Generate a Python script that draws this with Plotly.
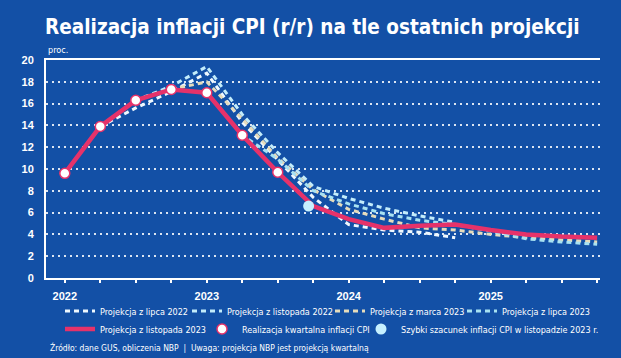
import plotly.graph_objects as go

# ---- data ----
quarters = list(range(16))  # 2022Q1 .. 2025Q4
year_ticks = ["2022", "", "", "", "2023", "", "", "", "2024", "", "", "", "2025", "", "", ""]

proj_lip_2022 = [None, 13.9, 15.6, 17.1, 18.8, 14.3, 10.8, 7.4, 4.9, 4.4, 4.2, 3.7,
                 None, None, None, None]
proj_lis_2022 = [None, None, 16.3, 17.6, 19.4, 15.0, 11.5, 8.4, 7.3, 6.4, 5.7, 5.1,
                 None, None, None, None]
proj_mar_2023 = [None, None, None, 17.3, 18.0, 14.6, 11.0, 8.1, 6.3, 5.4, 4.6, 4.4,
                 4.0, 3.7, 3.5, 3.3]
proj_lip_2023 = [None, None, None, None, 17.0, 13.1, 10.9, 8.0, 6.8, 5.9, 5.3, 4.9,
                 4.3, 3.6, 3.3, 3.1]
proj_lis_2023 = [9.6, 13.9, 16.3, 17.3, 17.0, 13.1, 9.7, 6.6, 5.4, 4.6, 4.8, 4.9,
                 4.4, 4.0, 3.8, 3.7]
real_x = [0, 1, 2, 3, 4, 5, 6]
real_cpi = [9.6, 13.9, 16.3, 17.3, 17.0, 13.1, 9.7]
flash_x = [6.87]
flash_cpi = [6.6]

BG = "#1350a6"
FONT = "Liberation Sans Narrow, DejaVu Sans Condensed, sans-serif"
DASH = "5px,4px"

fig = go.Figure()

# (name, values, colour, legend id, legend x px, legend row y px)
dashed = [
    ("Projekcja z lipca 2022", proj_lip_2022, "#eef8ff", "legend", 60, 311),
    ("Projekcja z listopada 2022", proj_lis_2022, "#c2ecfb", "legend2", 187, 311),
    ("Projekcja z marca 2023", proj_mar_2023, "#e6dcbc", "legend3", 330, 311),
    ("Projekcja z lipca 2023", proj_lip_2023, "#a8e2f2", "legend4", 462, 311),
]
legend_pos = {}
for name, ys, col, lg, lx, ly in dashed:
    fig.add_trace(go.Scatter(x=quarters, y=ys, name=name, mode="lines",
                             line=dict(color=col, width=3, dash=DASH),
                             connectgaps=False, legend=lg))
    legend_pos[lg] = (lx, ly)

fig.add_trace(go.Scatter(x=quarters, y=proj_lis_2023, name="Projekcja z listopada 2023",
                         mode="lines", line=dict(color="#e6326a", width=4.5),
                         legend="legend5"))
legend_pos["legend5"] = (60, 329)
fig.add_trace(go.Scatter(x=real_x, y=real_cpi, name="Realizacja kwartalna inflacji CPI",
                         mode="markers",
                         marker=dict(size=10, color="#ffffff",
                                     line=dict(color="#e6326a", width=1.5)),
                         legend="legend6"))
legend_pos["legend6"] = (202, 329)
fig.add_trace(go.Scatter(x=flash_x, y=flash_cpi,
                         name="Szybki szacunek inflacji CPI w listopadzie 2023 r.",
                         mode="markers",
                         marker=dict(size=11, color="#c6f0ff", line=dict(width=0)),
                         legend="legend7"))
legend_pos["legend7"] = (361, 329)

legends = {}
for lg, (lx, ly) in legend_pos.items():
    legends[lg] = dict(orientation="h", bgcolor="rgba(0,0,0,0)",
                       font=dict(family=FONT, size=9, color="#ffffff"),
                       xref="container", yref="container",
                       xanchor="left", yanchor="middle",
                       x=lx / 621, y=1 - ly / 358,
                       itemclick=False, itemdoubleclick=False)

fig.update_layout(
    width=621, height=358,
    margin=dict(l=46, r=21, t=60, b=80, autoexpand=False),
    paper_bgcolor=BG, plot_bgcolor=BG,
    title=dict(text="Realizacja inflacji CPI (r/r) na tle ostatnich projekcji",
               font=dict(family=FONT, size=20.5, color="#ffffff", weight="bold"),
               x=0.503, xanchor="center", y=1 - 27 / 358, yanchor="middle",
               xref="container", yref="container"),
    showlegend=True,
    **legends,
    xaxis=dict(range=[-0.53, 15.08], tickmode="array", tickvals=quarters,
               ticktext=year_ticks, showgrid=False, zeroline=False,
               showline=True, linecolor="#ffffff", linewidth=2, mirror=True,
               ticks="outside", ticklen=3, tickcolor="#ffffff", tickwidth=1.5,
               ticklabelstandoff=4,
               tickfont=dict(family="Liberation Sans, sans-serif", size=11,
                             color="#ffffff", weight="bold")),
    yaxis=dict(range=[0, 20], dtick=2, tick0=0, showgrid=True,
               gridcolor="rgba(255,255,255,0.85)", gridwidth=2, griddash="2px,4px",
               zeroline=False, showline=True, linecolor="#ffffff", linewidth=2,
               ticks="", ticklabelstandoff=8,
               tickfont=dict(family="Liberation Sans, sans-serif", size=11,
                             color="#ffffff", weight="bold")),
    annotations=[
        dict(text="proc.", xref="paper", yref="paper", x=0.0, y=1.0,
             xanchor="left", yanchor="bottom", yshift=3, showarrow=False,
             font=dict(family=FONT, size=9, color="#ffffff")),
        dict(text="Źródło: dane GUS, obliczenia NBP  |  Uwaga: projekcja NBP jest projekcją kwartalną",
             xref="paper", yref="paper", x=(48 - 46) / 554, y=(278 - 347) / 218,
             xanchor="left", yanchor="middle", showarrow=False,
             font=dict(family=FONT, size=8.5, color="#ffffff")),
    ],
)

fig.write_html(
    "out.html",
    config={"displayModeBar": False},
    post_script="document.body.style.margin='0';document.body.style.overflow='hidden';"
                "document.body.style.background='" + BG + "';",
)
